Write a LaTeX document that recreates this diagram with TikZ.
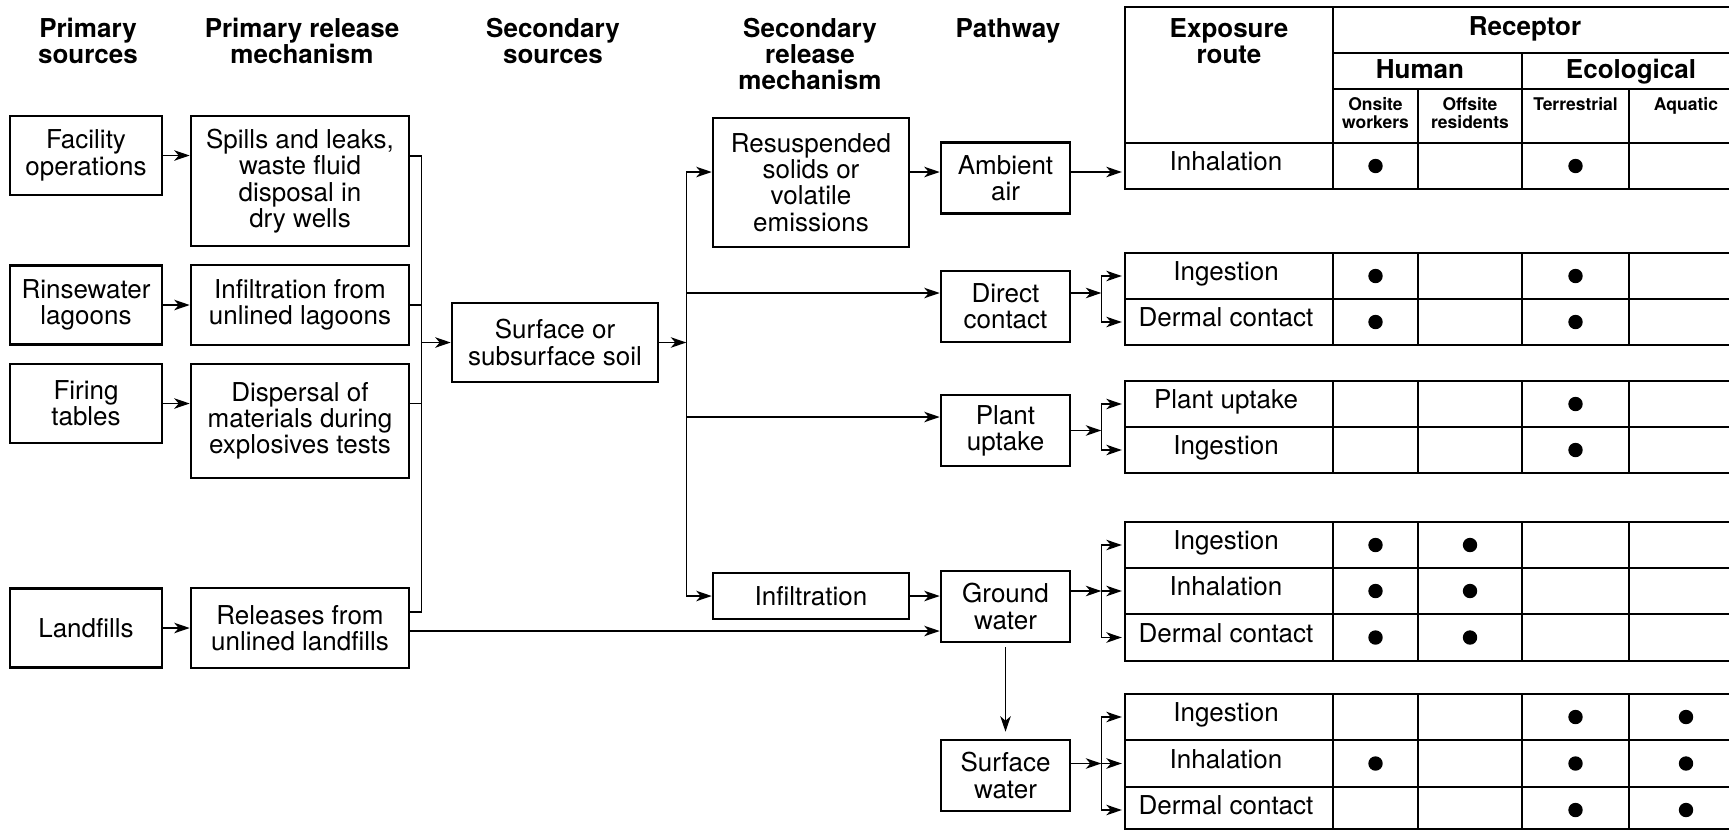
\documentclass[tikz,border=0pt]{standalone}
\usepackage{fontspec}
\setmainfont{TeX Gyre Heros}
\usepackage{tikz}
\usetikzlibrary{arrows.meta}

\begin{document}
\begin{tikzpicture}[
    x=1pt, y=-1pt,
    >={Stealth[length=15.5pt, width=10.5pt, inset=4.5pt]},
    box/.style={rectangle, draw, line width=2.6pt, inner sep=0pt, align=center, font=\fontsize{26}{26.3}\selectfont},
    srcbox/.style={box, minimum width=152pt, minimum height=79pt},
    relbox/.style={box, minimum width=218pt},
    mechbox/.style={box, minimum width=196pt},
    pathbox/.style={box, minimum width=129pt, minimum height=71pt},
    head/.style={anchor=north, inner sep=0pt, align=center, font=\fontsize{26}{26}\selectfont\bfseries},
    subhead/.style={anchor=north, inner sep=0pt, align=center, font=\fontsize{17.5}{18.5}\selectfont\bfseries},
    route/.style={minimum width=208pt, minimum height=46pt, inner sep=0pt, text height=19pt, text depth=10pt, font=\fontsize{26}{26.3}\selectfont},
    tblline/.style={line width=2.6pt},
    subline/.style={line width=1.4pt},
    link/.style={line width=1.4pt},
    arrow/.style={->, line width=1.4pt}
]
\useasboundingbox (0,0) rectangle (1729,831);

% Headings
\node[head] (hps) at (88,18) {Primary\\sources};
\node[head] (hprm) at (302,18) {Primary release\\mechanism};
\node[head] (hss) at (553,18) {Secondary\\sources};
\node[head] (hsrm) at (810,18) {Secondary\\release\\mechanism};
\node[head] (hpw) at (1008,18) {Pathway};

% Primary sources
\node[srcbox] (fac) at (86,155.5) {Facility\\operations};
\node[srcbox] (rinse) at (86,305) {Rinsewater\\lagoons};
\node[srcbox] (firing) at (86,403.5) {Firing\\tables};
\node[srcbox] (landf) at (86,628) {Landfills};

% Primary release mechanisms
\node[relbox, minimum height=130pt] (spills) at (300,181) {Spills and leaks,\\waste fluid\\disposal in\\dry wells};
\node[relbox, minimum height=80pt] (lagoon) at (300,305) {Infiltration from\\unlined lagoons};
\node[relbox, minimum height=114pt] (disp) at (300,421) {Dispersal of\\materials during\\explosives tests};
\node[relbox, minimum height=80pt] (relfill) at (300,628) {Releases from\\unlined landfills};

% Secondary source
\node[box, minimum width=206pt, minimum height=79pt] (soil) at (555,342.5) {Surface or\\subsurface soil};

% Secondary release mechanisms
\node[mechbox, minimum height=129pt] (resus) at (811,182.5) {Resuspended\\solids or\\volatile\\emissions};
\node[mechbox, minimum height=46pt] (infil) at (811,596) {Infiltration};

% Pathways
\node[pathbox] (air) at (1005.5,178) {Ambient\\air};
\node[pathbox] (contact) at (1005.5,306.5) {Direct\\contact};
\node[pathbox] (plant) at (1005.5,430.5) {Plant\\uptake};
\node[pathbox] (ground) at (1005.5,606.5) {Ground\\water};
\node[pathbox] (surface) at (1005.5,775.5) {Surface\\water};

% Receptor table
\draw[tblline] (1125,7) rectangle (1743,143);
\draw[tblline] (1333,7) -- (1333,143);
\draw[subline] (1333,53) -- (1743,53) (1333,89) -- (1743,89)
    (1522,53) -- (1522,143) (1418,89) -- (1418,143) (1629,89) -- (1629,143);
\foreach \ya/\yb in {143/189, 253/345, 381/473, 522/661, 694/829} {
    \draw[tblline] (1125,\ya) rectangle (1743,\yb);
    \foreach \x in {1333,1418,1522,1629}
        \draw[tblline] (\x,\ya) -- (\x,\yb);
}
\foreach \y in {299,427,568,614,740,787}
    \draw[tblline] (1125,\y) -- (1743,\y);

\node[head] (hexp) at (1229,18) {Exposure\\route};
\node[head] (hrec) at (1525,16) {Receptor};
\node[head] (hhum) at (1420,59) {Human};
\node[head] (heco) at (1631,59) {Ecological};
\node[subhead] (hon) at (1375.5,97) {Onsite\\workers};
\node[subhead] (hoff) at (1470,97) {Offsite\\residents};
\node[subhead] (hter) at (1575.5,97) {Terrestrial};
\node[subhead] (haq) at (1686,97) {Aquatic};

% Exposure routes
\node[route] (aInh) at (1226,166) {Inhalation};
\node[route] (cIng) at (1226,276) {Ingestion};
\node[route] (cDer) at (1226,322) {Dermal contact};
\node[route] (pUpt) at (1226,404) {Plant uptake};
\node[route] (pIng) at (1226,450) {Ingestion};
\node[route] (gIng) at (1226,545) {Ingestion};
\node[route] (gInh) at (1226,591) {Inhalation};
\node[route] (gDer) at (1226,637.5) {Dermal contact};
\node[route] (sIng) at (1226,717) {Ingestion};
\node[route] (sInh) at (1226,763.5) {Inhalation};
\node[route] (sDer) at (1226,810) {Dermal contact};

% Receptor marks
\foreach \x/\y in {1375.5/166, 1575.5/166,
    1375.5/276, 1575.5/276, 1375.5/322, 1575.5/322,
    1575.5/404, 1575.5/450,
    1375.5/545, 1470/545, 1375.5/591, 1470/591, 1375.5/637.5, 1470/637.5,
    1575.5/717, 1686/717, 1375.5/763.5, 1575.5/763.5, 1686/763.5, 1575.5/810, 1686/810}
    \fill (\x,\y) circle (7.2);

% Arrows
\draw[arrow] (fac.east) -- (fac.east -| spills.west);
\draw[arrow] (rinse) -- (lagoon);
\draw[arrow] (firing.east) -- (firing.east -| disp.west);
\draw[arrow] (landf) -- (relfill);

\coordinate (spout) at ([yshift=25pt]spills.east);
\coordinate (relout) at ([yshift=16pt]relfill.east);
\draw[link] (spout) -- ++(11,0) coordinate (ja) |- (relout);
\draw[link] (lagoon.east) -- (lagoon.east -| ja);
\draw[link] (firing.east -| disp.east) -- (firing.east -| ja);
\draw[arrow] (soil.west -| ja) -- (soil.west);

\draw[arrow] (soil.east) -- ++(27,0) coordinate (jb);
\coordinate (resin) at ([yshift=10.5pt]resus.west);
\coordinate (conin) at ([yshift=13.5pt]contact.west);
\coordinate (upin) at ([yshift=13.5pt]plant.west);
\draw[arrow] (resin -| jb) -- (resin);
\draw[arrow] (resin -| jb) |- (infil.west);
\draw[arrow] (conin -| jb) -- (conin);
\draw[arrow] (upin -| jb) -- (upin);

\draw[arrow] (resin -| resus.east) -- (resin -| air.west);
\draw[arrow] (resin -| air.east) -- (resin -| aInh.west);
\draw[arrow] (infil.east) -- (infil.east -| ground.west);
\coordinate (fillin) at ([yshift=-3pt]relfill.east);
\draw[arrow] (fillin) -- (fillin -| ground.west);
\draw[arrow, shorten <=4pt, shorten >=7pt] (ground) -- (surface);

\draw[arrow] (conin -| contact.east) -- ++(30,0) coordinate (fc);
\draw[link, <->] (cIng.west) -- (fc |- cIng.west) -- (fc |- cDer.west) -- (cDer.west);

\draw[arrow] (plant.east) -- ++(30,0) coordinate (fp);
\draw[link, <->] (pUpt.west) -- (fp |- pUpt.west) -- (fp |- pIng.west) -- (pIng.west);

\draw[arrow] (gInh.west -| ground.east) -- ++(30,0) coordinate (fg);
\draw[link, <->] (gIng.west) -- (fg |- gIng.west) -- (fg |- gDer.west) -- (gDer.west);
\draw[arrow] (fg) -- (gInh.west);

\draw[arrow] (sInh.west -| surface.east) -- ++(30,0) coordinate (fs);
\draw[link, <->] (sIng.west) -- (fs |- sIng.west) -- (fs |- sDer.west) -- (sDer.west);
\draw[arrow] (fs) -- (sInh.west);

\end{tikzpicture}
\end{document}
